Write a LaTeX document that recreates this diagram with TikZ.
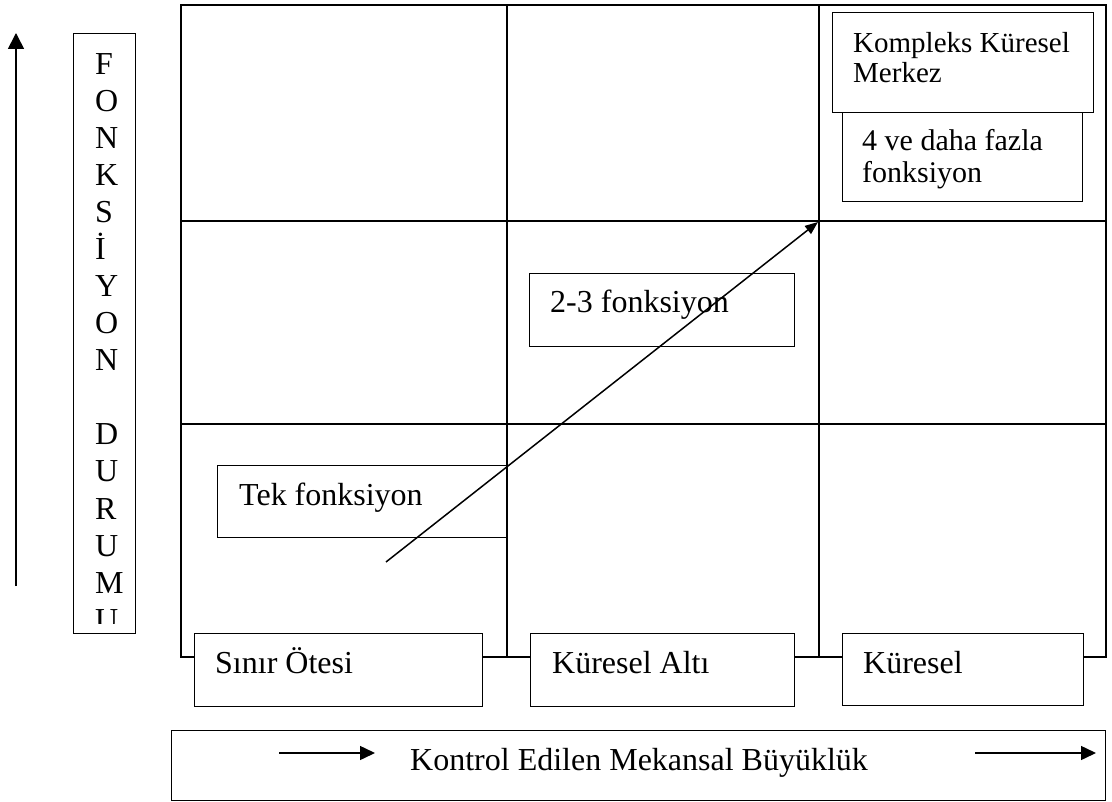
\documentclass[tikz,border=0pt]{standalone}
\usepackage{fontspec}
\setmainfont{Liberation Serif}
\usetikzlibrary{arrows.meta,calc}
\begin{document}
\begin{tikzpicture}[x=1pt,y=-1pt,
  gridline/.style={line width=2pt},
  box/.style={draw, line width=1.3pt, fill=white, rectangle, inner sep=0pt, anchor=north west},
  lbl/.style={anchor=base west, inner sep=0pt, font=\fontsize{32}{37}\selectfont},
  smalllbl/.style={anchor=base west, inner sep=0pt, font=\fontsize{29}{30}\selectfont},
  midlbl/.style={anchor=base west, inner sep=0pt, font=\fontsize{30}{30}\selectfont},
  vletter/.style={anchor=base west, inner sep=0pt, font=\fontsize{32}{37}\selectfont},
  bigarrow/.style={line width=1.7pt, -{Triangle[length=16pt,width=16pt]}},
  smallarrow/.style={line width=1.5pt, -{Triangle[length=15pt,width=14pt]}},
  diag/.style={line width=1.5pt, -{Triangle[length=13pt,width=10pt]}}]
\useasboundingbox (0,0) rectangle (1112,802);
\fill[white] (0,0) rectangle (1112,802);

% grid
\draw[gridline] (181,5) rectangle (1106,657);
\draw[gridline] (507,5) -- (507,657);
\draw[gridline] (819,5) -- (819,657);
\draw[gridline] (181,221) -- (1106,221);
\draw[gridline] (181,424) -- (1106,424);

% vertical axis
\coordinate (vb) at (16,586);
\coordinate (vt) at (16,33);
\draw[bigarrow] (vb) -- (vt);
\node[box, minimum width=62pt, minimum height=600pt] (fonk) at (73,33) {};
\begin{scope}
\clip (73,33) rectangle (135,623);
\foreach \ch [count=\i] in {F,O,N,K,S,İ,Y,O,N}
  \node[vletter] (va\i) at (95,{75+37*(\i-1)}) {\ch};
\foreach \ch [count=\i] in {D,U,R,U,M,U}
  \node[vletter] (vb\i) at (95,{445+37*(\i-1)}) {\ch};
\end{scope}

% bottom category boxes
\node[box, minimum width=288pt, minimum height=73pt] (sinir) at (194,633) {};
\node[lbl] (sinirT) at ($(sinir.north west)+(21,40)$) {Sınır Ötesi};
\node[box, minimum width=264pt, minimum height=73pt] (alti) at (530,633) {};
\node[lbl] (altiT) at ($(alti.north west)+(22,40)$) {Küresel Altı};
\node[box, minimum width=241pt, minimum height=72pt] (kuresel) at (842,633) {};
\node[lbl] (kureselT) at ($(kuresel.north west)+(21,40)$) {Küresel};

% inner boxes
\node[box, minimum width=289pt, minimum height=72pt] (tek) at (217,465) {};
\node[lbl] (tekT) at ($(tek.north west)+(22,40)$) {Tek fonksiyon};
\node[box, minimum width=265pt, minimum height=73pt] (iki) at (529,273) {};
\node[lbl] (ikiT) at ($(iki.north west)+(21,40)$) {2-3 fonksiyon};
\node[box, minimum width=240pt, minimum height=89pt] (dort) at (842,112) {};
\node[midlbl] (dortA) at ($(dort.north west)+(20,39)$) {4 ve daha fazla};
\node[midlbl] (dortB) at ($(dort.north west)+(20,71)$) {fonksiyon};
\node[box, minimum width=261pt, minimum height=100pt] (komp) at (832,12) {};
\node[smalllbl] (kompA) at ($(komp.north west)+(21,41)$) {Kompleks Küresel};
\node[smalllbl] (kompB) at ($(komp.north west)+(21,71)$) {Merkez};

% bottom axis box
\node[box, minimum width=934pt, minimum height=70pt] (kontrol) at (171,730) {};
\node[lbl] (kontrolT) at ($(kontrol.north west)+(239,40)$) {Kontrol Edilen Mekansal Büyüklük};
\coordinate (ka1) at (279,753);
\coordinate (ka2) at (375,753);
\coordinate (kb1) at (975,753);
\coordinate (kb2) at (1096,753);
\draw[smallarrow] (ka1) -- (ka2);
\draw[smallarrow] (kb1) -- (kb2);

% diagonal trend arrow
\coordinate (dstart) at (386,562);
\coordinate (dend) at (818,222);
\draw[diag] (dstart) -- (dend);
\end{tikzpicture}
\end{document}
